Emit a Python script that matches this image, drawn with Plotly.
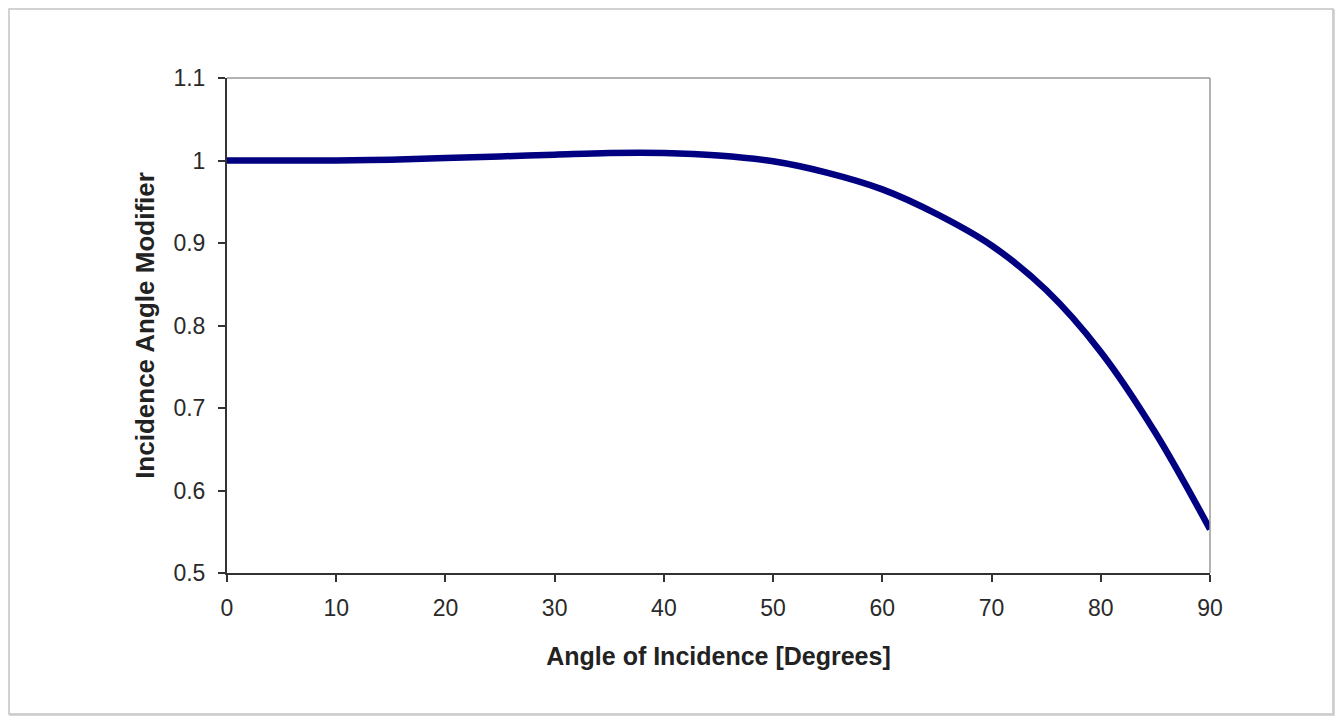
import plotly.graph_objects as go

angle_deg = [0, 5, 10, 15, 20, 25, 30, 35, 40, 45, 50, 55, 60, 65, 70, 75, 80, 85, 90]
iam = [1.000, 1.000, 1.000, 1.001, 1.003, 1.005, 1.007, 1.009, 1.009, 1.006, 0.999,
       0.985, 0.965, 0.935, 0.897, 0.843, 0.768, 0.670, 0.553]

x_ticks = [0, 10, 20, 30, 40, 50, 60, 70, 80, 90]
y_ticks = [0.5, 0.6, 0.7, 0.8, 0.9, 1.0, 1.1]
y_tick_labels = ["0.5", "0.6", "0.7", "0.8", "0.9", "1", "1.1"]

# page body has an 8px margin: figure coordinates = screen - 8
OFF = 8
W, H = 1327, 708
L, R, T, B = 227 - OFF, 1210 - OFF, 78 - OFF, 573 - OFF

fig = go.Figure()
fig.add_trace(go.Scatter(
    x=angle_deg, y=iam, mode="lines",
    line=dict(color="#000080", width=6.5, shape="spline", smoothing=1.0),
    showlegend=False, hoverinfo="skip", cliponaxis=False,
))

font_family = "Liberation Sans, Arial, sans-serif"

fig.update_layout(
    width=W, height=H,
    margin=dict(l=L, r=W - R, t=T, b=H - B, pad=0),
    paper_bgcolor="white", plot_bgcolor="white",
    font=dict(family=font_family, size=22, color="#222222"),
    xaxis=dict(
        range=[0, 90], tickvals=x_ticks, ticks="outside", ticklen=7, tickwidth=2,
        tickcolor="#333333", showline=True, linecolor="#333333", linewidth=2,
        showgrid=False, zeroline=False, ticklabelstandoff=6,
        title=dict(text="<b>Angle of Incidence [Degrees]</b>", font=dict(size=25, color="#222222"), standoff=28),
        tickfont=dict(size=23, color="#2a2a2a"),
    ),
    yaxis=dict(
        range=[0.5, 1.1], tickvals=y_ticks, ticktext=y_tick_labels, ticks="outside", ticklen=7,
        tickwidth=2, tickcolor="#333333", showline=True, linecolor="#333333", linewidth=2,
        showgrid=False, zeroline=False, ticklabelstandoff=8,
        title=dict(text="<b>Incidence Angle Modifier</b>", font=dict(size=26, color="#222222"), standoff=11),
        tickfont=dict(size=23, color="#2a2a2a"),
    ),
)

pw, ph = R - L, B - T

def px_to_paper_x(px):
    return (px - OFF - L) / pw

def py_to_paper_y(py):
    return (B - (py - OFF)) / ph

# top and right grey borders of plot area
fig.add_shape(type="line", xref="paper", yref="paper", x0=0, x1=1, y0=1, y1=1,
              line=dict(color="#999999", width=1.5))
fig.add_shape(type="line", xref="paper", yref="paper", x0=1, x1=1, y0=0, y1=1,
              line=dict(color="#999999", width=1.5))

# outer frame with soft shadow
fx0, fx1, fy0, fy1 = 9, 1333, 9, 714
for off, col, w in [(3, "#e8e8e8", 3), (1.5, "#d6d6d6", 2)]:
    fig.add_shape(type="rect", xref="paper", yref="paper",
                  x0=px_to_paper_x(fx0 + off), x1=px_to_paper_x(fx1 + off),
                  y0=py_to_paper_y(fy1 + off), y1=py_to_paper_y(fy0 + off),
                  line=dict(color=col, width=w), layer="below")
fig.add_shape(type="rect", xref="paper", yref="paper",
              x0=px_to_paper_x(fx0), x1=px_to_paper_x(fx1),
              y0=py_to_paper_y(fy1), y1=py_to_paper_y(fy0),
              line=dict(color="#c4c4c4", width=1.5), fillcolor="white", layer="below")

fig.write_html("out.html")
